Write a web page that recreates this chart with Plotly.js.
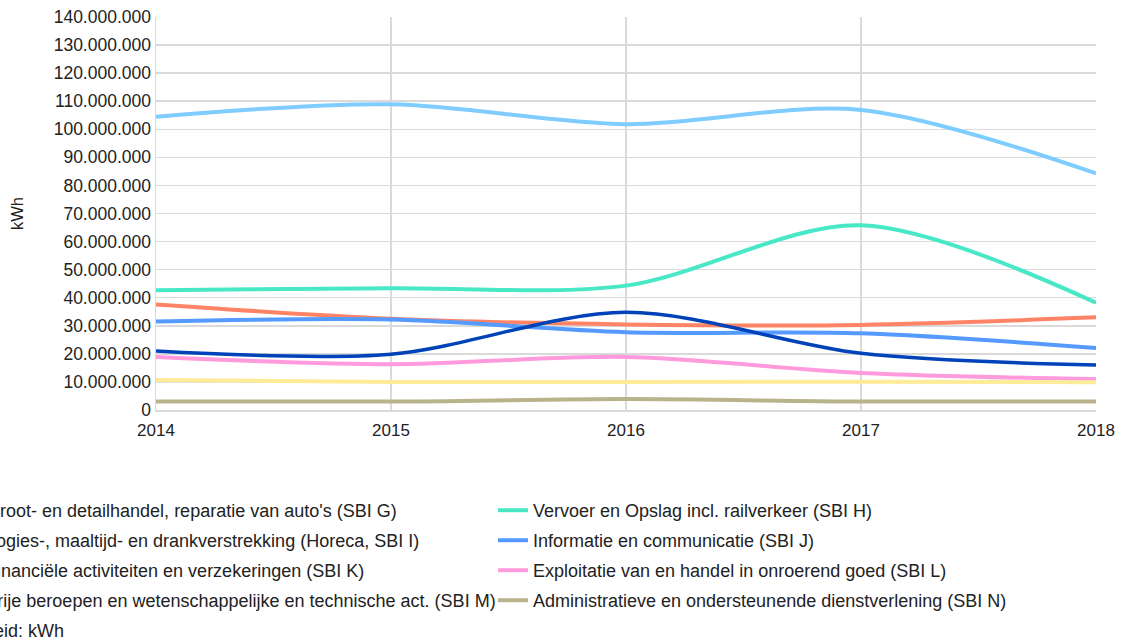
<!DOCTYPE html>
<html>
<head>
<meta charset="utf-8">
<script src="https://cdn.plot.ly/plotly-3.0.1.min.js"></script>
<style>
html, body { margin: 0; padding: 0; width: 1122px; height: 641px; overflow: hidden; background: #fff; }
#chart { position: absolute; left: -200px; top: 0; width: 1322px; height: 641px; }
</style>
</head>
<body>
<div id="chart"></div>
<script>
// ---- data (kWh) ----
const years = [2014, 2015, 2016, 2017, 2018];

const seriesNames = [
  "Groot- en detailhandel, reparatie van auto's (SBI G)",
  "Vervoer en Opslag incl. railverkeer (SBI H)",
  "Logies-, maaltijd- en drankverstrekking (Horeca, SBI I)",
  "Informatie en communicatie (SBI J)",
  "Financiële activiteiten en verzekeringen (SBI K)",
  "Exploitatie van en handel in onroerend goed (SBI L)",
  "Vrije beroepen en wetenschappelijke en technische act. (SBI M)",
  "Administratieve en ondersteunende dienstverlening (SBI N)"
];

const sbiG = [104500000, 108900000, 101800000, 106900000, 84300000];
const sbiH = [42700000, 43400000, 44300000, 65800000, 38200000];
const sbiI = [37600000, 32500000, 30500000, 30300000, 33000000];
const sbiJ = [31500000, 32200000, 27700000, 27300000, 22100000];
const sbiK = [21000000, 19900000, 34800000, 20200000, 16000000];
const sbiL = [18900000, 16300000, 18900000, 13200000, 11000000];
const sbiM = [10700000, 10000000, 10000000, 10100000, 9900000];
const sbiN = [3000000, 3000000, 3900000, 3000000, 3000000];

const unitNote = "Eenheid: kWh";
const yTitle = "kWh";

// ---- styling ----
const seriesValues = [sbiG, sbiH, sbiI, sbiJ, sbiK, sbiL, sbiM, sbiN];
const colors = ["#7fcdff", "#48e8c6", "#ff8466", "#559bff", "#0042b8", "#ff9bdc", "#ffec99", "#b9b38b"];
const widths = [4, 4, 4, 4, 3.5, 4, 4, 4];
const legendOf = ["legend", "legend2", "legend", "legend2", "legend", "legend2", "legend", "legend2"];

const FONT = "Liberation Sans, Arial, sans-serif";

const traces = seriesValues.map((vals, i) => ({
  type: "scatter",
  mode: "lines",
  x: years,
  y: vals,
  name: seriesNames[i],
  line: { color: colors[i], width: widths[i], shape: "spline", smoothing: 0.9 },
  legend: legendOf[i],
  legendgroup: "g" + i,
  hoverinfo: "skip"
}));

const legendCommon = {
  orientation: "v",
  xanchor: "left",
  yanchor: "top",
  font: { family: FONT, size: 18, color: "#222" },
  bgcolor: "rgba(0,0,0,0)",
  borderwidth: 0,
  tracegroupgap: 3.6,
  traceorder: "grouped"
};

const layout = {
  width: 1322,
  height: 641,
  paper_bgcolor: "#ffffff",
  plot_bgcolor: "#ffffff",
  separators: ",.",
  margin: { l: 356, r: 26, t: 17, b: 231, autoexpand: false },
  font: { family: FONT, size: 17, color: "#222" },
  showlegend: true,
  xaxis: {
    type: "linear",
    range: [2014, 2018],
    tickvals: years,
    ticktext: years.map(String),
    showgrid: true,
    gridcolor: "#dadada",
    gridwidth: 1.5,
    zeroline: false,
    showline: true,
    linecolor: "#dadada",
    linewidth: 1.5,
    ticks: "",
    ticklabelstandoff: 4,
    tickfont: { family: FONT, size: 17, color: "#222" },
    fixedrange: true
  },
  yaxis: {
    range: [0, 140000000],
    dtick: 10000000,
    tick0: 0,
    tickformat: ",d",
    showgrid: true,
    gridcolor: "#dadada",
    gridwidth: 1.5,
    zeroline: false,
    showline: true,
    linecolor: "#dadada",
    linewidth: 1.5,
    ticks: "",
    tickfont: { family: FONT, size: 17.5, color: "#222" },
    automargin: true,
    title: { text: yTitle, font: { family: FONT, size: 16.5, color: "#222" }, standoff: 26 },
    fixedrange: true
  },
  legend: Object.assign({}, legendCommon, { x: -0.2234, y: -0.2087 }),
  legend2: Object.assign({}, legendCommon, { x: 0.3585, y: -0.2087 }),
  annotations: [{
    xref: "paper", yref: "paper",
    x: -0.2191, y: -0.5623,
    xanchor: "left", yanchor: "middle",
    text: unitNote,
    showarrow: false,
    font: { family: FONT, size: 18, color: "#222" }
  }]
};

Plotly.newPlot("chart", traces, layout, { displayModeBar: false, staticPlot: true });
</script>
</body>
</html>
